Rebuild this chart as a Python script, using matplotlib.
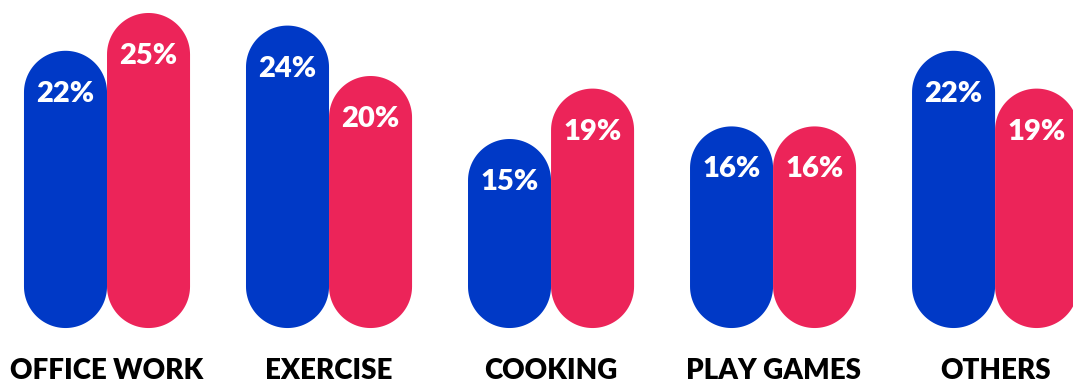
import numpy as np
import matplotlib.pyplot as plt
from matplotlib.patches import Polygon

categories = ['OFFICE WORK', 'EXERCISE', 'COOKING', 'PLAY GAMES', 'OTHERS']
blue_vals = [22, 24, 15, 16, 22]
red_vals = [25, 20, 19, 16, 19]

BLUE = '#0039c6'
RED = '#ec2459'
W, H, DPI = 1073, 385, 100

plt.rcParams['font.family'] = ['Lato', 'DejaVu Sans']

fig = plt.figure(figsize=(W / DPI, H / DPI), dpi=DPI)
ax = fig.add_axes([0, 0, 1, 1])
ax.set_xlim(-0.482, 4.351)
ax.set_ylim(-4.52, 26.03)
ax.axis('off')

x = np.arange(len(categories))
bw = 0.374
bars_b = ax.bar(x - bw / 2, blue_vals, bw, color=BLUE)
bars_r = ax.bar(x + bw / 2, red_vals, bw, color=RED)

# data units per pixel, so the caps come out as true half circles
px_x = W / (ax.get_xlim()[1] - ax.get_xlim()[0])
px_y = H / (ax.get_ylim()[1] - ax.get_ylim()[0])


def pill(x0, y0, w, h):
    rx = w / 2
    ry = rx * px_x / px_y
    cx = x0 + rx
    t_top = np.linspace(0, np.pi, 60)
    t_bot = np.linspace(np.pi, 2 * np.pi, 60)
    top = np.column_stack([cx + rx * np.cos(t_top), y0 + h - ry + ry * np.sin(t_top)])
    bot = np.column_stack([cx + rx * np.cos(t_bot), y0 + ry + ry * np.sin(t_bot)])
    return np.vstack([top, bot])


for bars in (bars_b, bars_r):
    for p in bars:
        p.set_visible(False)
        ax.add_patch(Polygon(pill(p.get_x(), p.get_y(), p.get_width(), p.get_height()),
                             closed=True, facecolor=p.get_facecolor(), edgecolor='none'))
        ax.annotate('%d%%' % round(p.get_height()),
                    (p.get_x() + p.get_width() / 2, p.get_height()),
                    xytext=(0, -31), textcoords='offset points',
                    ha='center', va='center', color='white',
                    fontsize=21, fontweight='heavy')

for xi, name in zip(x, categories):
    ax.text(xi, -3.4, name, ha='center', va='center', fontsize=20,
            fontweight='heavy', color='black')

fig.savefig('out.png', dpi=DPI)
